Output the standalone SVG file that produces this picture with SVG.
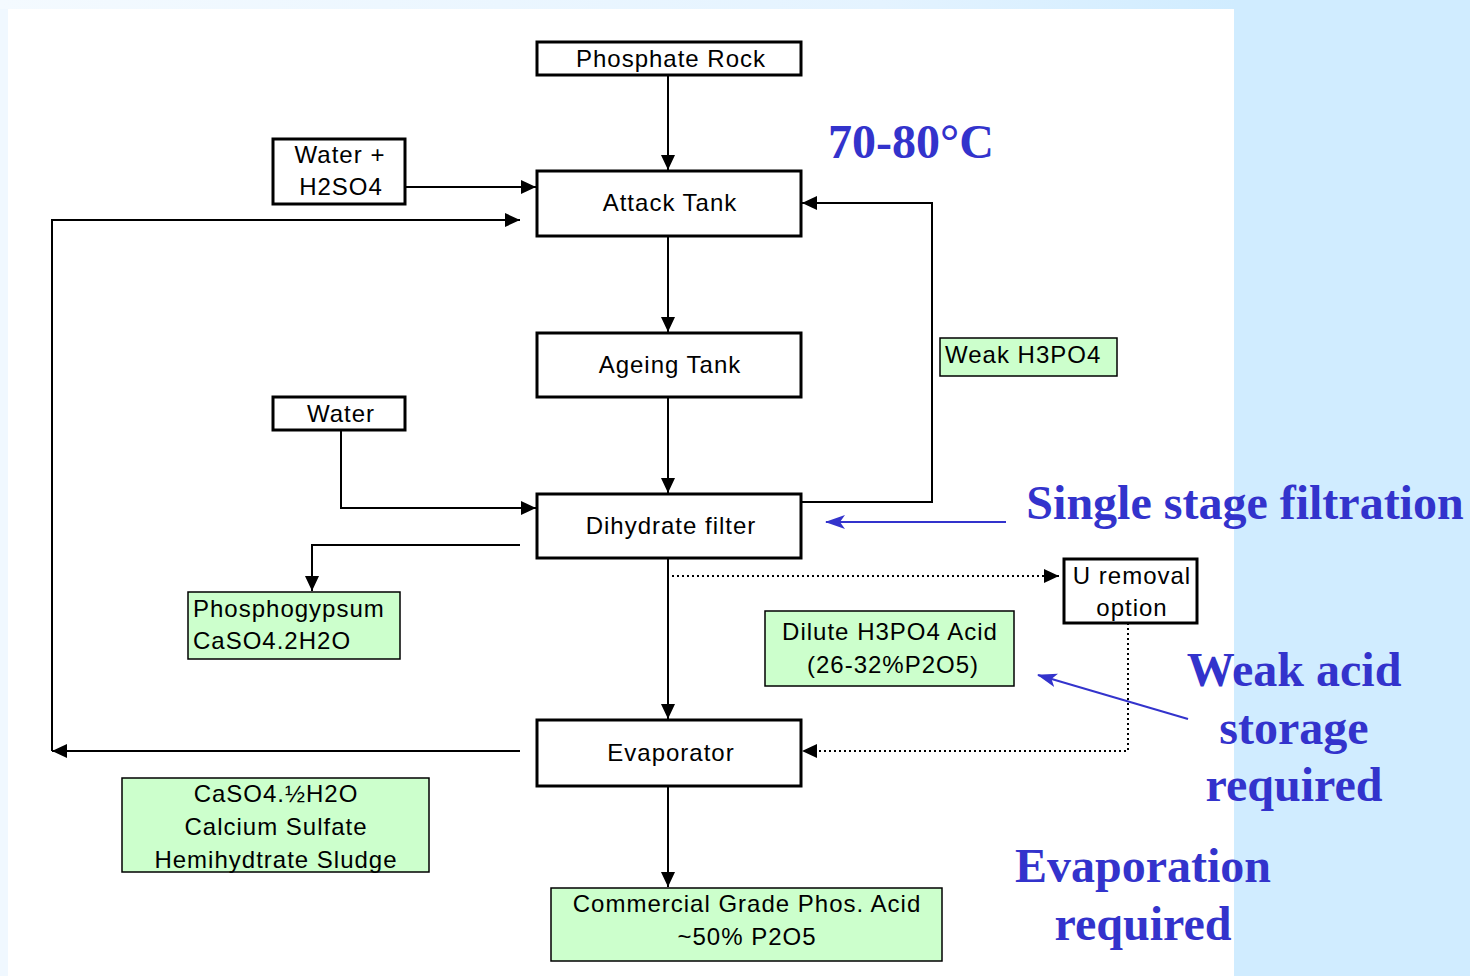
<svg xmlns="http://www.w3.org/2000/svg" width="1470" height="976" viewBox="0 0 1470 976">
<defs>
<linearGradient id="topg" x1="0" y1="0" x2="1" y2="0">
<stop offset="0" stop-color="#f4faff"/><stop offset="0.6" stop-color="#e4f3ff"/><stop offset="0.84" stop-color="#d0ecff"/><stop offset="1" stop-color="#d0ecff"/>
</linearGradient>
<marker id="ah" markerWidth="15" markerHeight="14" refX="15" refY="7" orient="auto" markerUnits="userSpaceOnUse" viewBox="0 0 15 14">
<path d="M0,0 L15,7 L0,14 z" fill="#000"/>
</marker>
<marker id="ab" markerWidth="20" markerHeight="14" refX="19" refY="7" orient="auto" markerUnits="userSpaceOnUse" viewBox="0 0 20 14">
<path d="M0,0 L20,7 L0,14 L5,7 z" fill="#3333cc"/>
</marker>
<style>
.box{fill:#fff;stroke:#000;stroke-width:3}
.gbox{fill:#ccffcc;stroke:#000;stroke-width:1.5}
.t{font-family:"Liberation Sans",Arial,sans-serif;font-size:24px;letter-spacing:1px;fill:#000;text-anchor:middle}
.tl{font-family:"Liberation Sans",Arial,sans-serif;font-size:24px;letter-spacing:1px;fill:#000}
.c{fill:none;stroke:#000;stroke-width:2}
.d{fill:none;stroke:#000;stroke-width:2;stroke-dasharray:2 3}
.b{fill:none;stroke:#3333cc;stroke-width:2}
.big{font-family:"Liberation Serif","Times New Roman",serif;font-weight:bold;font-size:48px;fill:#3333cc;text-anchor:middle}
</style>
</defs>
<rect x="0" y="0" width="1470" height="976" fill="#d0ecff"/>
<rect x="0" y="0" width="1470" height="9" fill="url(#topg)"/>
<rect x="0" y="9" width="8" height="967" fill="#f0f8ff"/>
<rect x="8" y="9" width="1226" height="967" fill="#fff"/>

<g id="connectors">
<path class="c" d="M668,75 V170" marker-end="url(#ah)"/>
<path class="c" d="M405,187 H536" marker-end="url(#ah)"/>
<path class="c" d="M52,751 V220 H520" marker-end="url(#ah)"/>
<path class="c" d="M520,751 H52" marker-end="url(#ah)"/>
<path class="c" d="M668,236 V332" marker-end="url(#ah)"/>
<path class="c" d="M668,397 V493" marker-end="url(#ah)"/>
<path class="c" d="M801,502 H932 V203 H802" marker-end="url(#ah)"/>
<path class="c" d="M341,430 V508 H536" marker-end="url(#ah)"/>
<path class="c" d="M520,545 H312 V591" marker-end="url(#ah)"/>
<path class="c" d="M668,558 V719" marker-end="url(#ah)"/>
<path class="d" d="M672,576 H1059" marker-end="url(#ah)"/>
<path class="d" d="M1128,623 V751 H802" marker-end="url(#ah)"/>
<path class="c" d="M668,786 V887" marker-end="url(#ah)"/>
<path class="b" d="M1006,522 H826" marker-end="url(#ab)"/>
<path class="b" d="M1188,719 L1038,675" marker-end="url(#ab)"/>
</g>

<g id="phosphate-rock"><rect class="box" x="537" y="42" width="264" height="33"/><text class="t" x="671" y="67">Phosphate Rock</text></g>
<g id="water-h2so4"><rect class="box" x="273" y="139" width="132" height="65"/><text class="t" x="340" y="163">Water +</text><text class="t" x="341" y="195">H2SO4</text></g>
<g id="attack-tank"><rect class="box" x="537" y="171" width="264" height="65"/><text class="t" x="670" y="211">Attack Tank</text></g>
<g id="ageing-tank"><rect class="box" x="537" y="333" width="264" height="64"/><text class="t" x="670" y="373">Ageing Tank</text></g>
<g id="water"><rect class="box" x="273" y="397" width="132" height="33"/><text class="t" x="341" y="422">Water</text></g>
<g id="dihydrate-filter"><rect class="box" x="537" y="494" width="264" height="64"/><text class="t" x="671" y="534">Dihydrate filter</text></g>
<g id="weak-h3po4"><rect class="gbox" x="940" y="338" width="177" height="38"/><text class="tl" x="945" y="363">Weak H3PO4</text></g>
<g id="u-removal"><rect class="box" x="1064" y="559" width="133" height="64"/><text class="t" x="1132" y="584">U removal</text><text class="t" x="1132" y="616">option</text></g>
<g id="phosphogypsum"><rect class="gbox" x="188" y="592" width="212" height="67"/><text class="tl" x="193" y="617">Phosphogypsum</text><text class="tl" x="193" y="649">CaSO4.2H2O</text></g>
<g id="dilute-h3po4"><rect class="gbox" x="765" y="611" width="249" height="75"/><text class="t" x="890" y="640">Dilute H3PO4 Acid</text><text class="t" x="893" y="673">(26-32%P2O5)</text></g>
<g id="evaporator"><rect class="box" x="537" y="720" width="264" height="66"/><text class="t" x="671" y="761">Evaporator</text></g>
<g id="hemihydrate"><rect class="gbox" x="122" y="778" width="307" height="94"/><text class="t" x="276" y="802">CaSO4.½H2O</text><text class="t" x="276" y="835">Calcium Sulfate</text><text class="t" x="276" y="868">Hemihydtrate Sludge</text></g>
<g id="commercial-acid"><rect class="gbox" x="551" y="888" width="391" height="73"/><text class="t" x="747" y="912">Commercial Grade Phos. Acid</text><text class="t" x="747" y="945">~50% P2O5</text></g>

<g id="annotations">
<text class="big" x="911" y="158">70-80°C</text>
<text class="big" x="1245" y="519">Single stage filtration</text>
<text class="big" x="1294" y="686">Weak acid</text>
<text class="big" x="1294" y="744">storage</text>
<text class="big" x="1294" y="801">required</text>
<text class="big" x="1143" y="882">Evaporation</text>
<text class="big" x="1143" y="940">required</text>
</g>
</svg>
